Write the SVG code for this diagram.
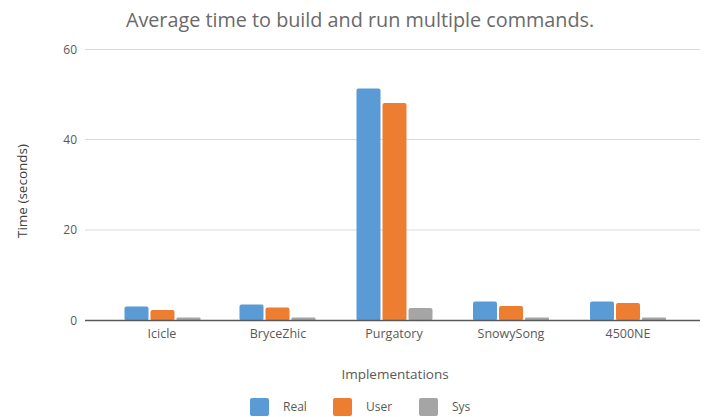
<svg xmlns="http://www.w3.org/2000/svg" width="707" height="417" viewBox="0 0 707 417">
<style>
text{font-family:"Open Sans","Noto Sans","Liberation Sans",sans-serif;fill:#595959}
.title{font-size:19.8px;fill:#6a6a6a}
.tick{font-size:12px}
.cat{font-size:12.5px}
.axt{font-size:13.5px}
.ytitle{font-size:13.5px;fill:#404040}
.grid{stroke:#d9d9d9;stroke-width:1.2}
.real{fill:#5b9bd5}
.user{fill:#ed7d31}
.sys{fill:#a5a5a5}
</style>
<rect width="707" height="417" fill="#ffffff"/>
<text class="title" x="360" y="27" text-anchor="middle">Average time to build and run multiple commands.</text>
<g id="axes">
<line class="grid" x1="85" y1="49.5" x2="700" y2="49.5"/>
<line class="grid" x1="85" y1="139.5" x2="700" y2="139.5"/>
<line class="grid" x1="85" y1="230" x2="700" y2="230"/>
<text class="tick" x="77" y="54" text-anchor="end">60</text>
<text class="tick" x="77" y="144" text-anchor="end">40</text>
<text class="tick" x="77" y="234" text-anchor="end">20</text>
<text class="tick" x="77" y="325" text-anchor="end">0</text>
<text class="ytitle" transform="translate(27,191) rotate(-90)" text-anchor="middle">Time (seconds)</text>
<text class="axt" x="395" y="379" text-anchor="middle">Implementations</text>
</g>
<g id="bars">
<g id="icicle">
<rect class="real" x="124.5" y="306.5" width="24" height="14" rx="2"/>
<rect class="user" x="150.5" y="310" width="24" height="10.5" rx="2"/>
<rect class="sys" x="176.5" y="317.5" width="24" height="3" rx="1"/>
<text class="cat" x="162" y="338" text-anchor="middle">Icicle</text>
</g>
<g id="brycezhic">
<rect class="real" x="239.5" y="304.5" width="24" height="16" rx="2"/>
<rect class="user" x="265.5" y="307.5" width="24" height="13" rx="2"/>
<rect class="sys" x="291.5" y="317.5" width="24" height="3" rx="1"/>
<text class="cat" x="278" y="338" text-anchor="middle">BryceZhic</text>
</g>
<g id="purgatory">
<rect class="real" x="356.5" y="88.5" width="24" height="232" rx="2"/>
<rect class="user" x="382.5" y="103" width="24" height="217.5" rx="2"/>
<rect class="sys" x="408.5" y="308" width="24" height="12.5" rx="2"/>
<text class="cat" x="394" y="338" text-anchor="middle">Purgatory</text>
</g>
<g id="snowysong">
<rect class="real" x="473" y="301.5" width="24" height="19" rx="2"/>
<rect class="user" x="499" y="306" width="24" height="14.5" rx="2"/>
<rect class="sys" x="525" y="317.5" width="24" height="3" rx="1"/>
<text class="cat" x="511" y="338" text-anchor="middle">SnowySong</text>
</g>
<g id="n4500ne">
<rect class="real" x="590" y="301.5" width="24" height="19" rx="2"/>
<rect class="user" x="616" y="303" width="24" height="17.5" rx="2"/>
<rect class="sys" x="642" y="317.5" width="24" height="3" rx="1"/>
<text class="cat" x="628" y="338" text-anchor="middle">4500NE</text>
</g>
</g>
<line x1="85" y1="320.5" x2="700" y2="320.5" stroke="#595959" stroke-width="1.5"/>
<g id="legend">
<rect class="real" x="250" y="398" width="19" height="18" rx="2"/>
<text class="tick" x="283" y="411">Real</text>
<rect class="user" x="333" y="398" width="19" height="18" rx="2"/>
<text class="tick" x="366" y="411">User</text>
<rect class="sys" x="419" y="398" width="19" height="18" rx="2"/>
<text class="tick" x="452" y="411">Sys</text>
</g>
</svg>
